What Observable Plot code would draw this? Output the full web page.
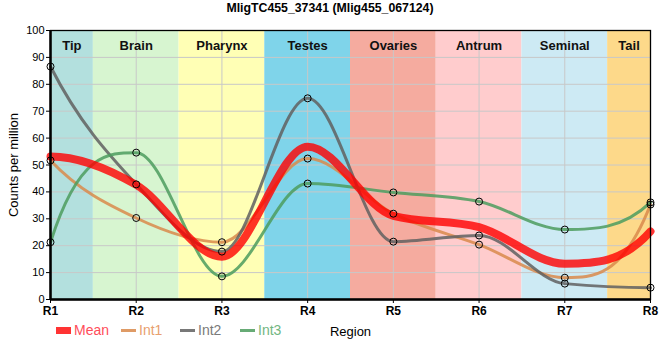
<!DOCTYPE html>
<html>
<head>
<meta charset="utf-8">
<script src="https://cdn.jsdelivr.net/npm/d3@7"></script>
<script src="https://cdn.jsdelivr.net/npm/@observablehq/plot@0.6"></script>
<style>
  body { margin: 0; background: #fff; font-family: "Liberation Sans", Arial, sans-serif; }
  #wrap { position: relative; width: 660px; height: 360px; overflow: hidden; }
  #title { height: 20px; line-height: 17px; text-align: center; font-weight: bold; font-size: 12.3px; color: #000; }
  #legend { position: absolute; left: 0; top: 321px; width: 660px; height: 20px; font-size: 14px; }
  #legend .item { position: absolute; top: 0; display: flex; align-items: center; height: 18px; }
  #legend .sw { display: inline-block; margin-right: 3px; }
</style>
</head>
<body>
<div id="wrap">
  <div id="title"></div>
  <div id="chart"></div>
  <div id="legend"></div>
</div>
<script>
// ---- data ----
const chartTitle = "MligTC455_37341 (Mlig455_067124)";
const regions = ["R1", "R2", "R3", "R4", "R5", "R6", "R7", "R8"];
const int1 = [51.7, 30.3, 21.3, 52.4, 31.9, 20.4, 8.1, 35.3];
const int2 = [86.6, 42.8, 17.8, 74.8, 21.5, 23.8, 5.9, 4.4];
const int3 = [21.3, 54.6, 8.6, 43.1, 39.8, 36.4, 26.0, 36.1];
const meanValues = [53.2, 42.6, 15.9, 56.8, 31.1, 26.9, 13.3, 25.3];
const seriesNames = ["Int1", "Int2", "Int3"];
const seriesColors = ["#d98a4b", "#606060", "#4c9c5e"];
const legendTextColors = ["#ff4d5a", "#e8a06f", "#7a7a7a", "#72b682"];
const bandNames = ["Tip", "Brain", "Pharynx", "Testes", "Ovaries", "Antrum", "Seminal", "Tail"];
const bandStart = [1, 1.5, 2.5, 3.5, 4.5, 5.5, 6.5, 7.5];
const bandEnd = [1.5, 2.5, 3.5, 4.5, 5.5, 6.5, 7.5, 8];
const bandColors = ["#b3e0de", "#d7f5d0", "#ffffb5", "#7fd4ea", "#f5ab9f", "#ffcccd", "#cdeaf4", "#fdd98a"];
const yTicks = [0, 10, 20, 30, 40, 50, 60, 70, 80, 90, 100];

// ---- build tables ----
const xPos = regions.map((_, i) => i + 1);
const seriesValues = [int1, int2, int3];
const tidy = seriesNames.flatMap((name, s) => seriesValues[s].map((v, i) => ({x: xPos[i], y: v, name})));
const meanData = meanValues.map((v, i) => ({x: xPos[i], y: v}));
const bands = bandNames.map((name, i) => ({name, x1: bandStart[i], x2: bandEnd[i]}));

// monotone cubic curve with steeper end tangents
function curveMono(context) {
  let xs, ys;
  return {
    areaStart() {}, areaEnd() {},
    lineStart() { xs = []; ys = []; },
    point(x, y) { xs.push(+x); ys.push(+y); },
    lineEnd() {
      const n = xs.length;
      if (!n) return;
      context.moveTo(xs[0], ys[0]);
      if (n === 1) return;
      if (n === 2) { context.lineTo(xs[1], ys[1]); return; }
      const h = [], s = [];
      for (let i = 0; i < n - 1; i++) { h[i] = xs[i + 1] - xs[i]; s[i] = (ys[i + 1] - ys[i]) / h[i]; }
      const m = new Array(n);
      for (let i = 1; i < n - 1; i++) {
        const p = (s[i - 1] * h[i] + s[i] * h[i - 1]) / (h[i - 1] + h[i]);
        m[i] = (Math.sign(s[i - 1]) + Math.sign(s[i])) * Math.min(Math.abs(s[i - 1]), Math.abs(s[i]), 0.5 * Math.abs(p)) || 0;
      }
      const endT = (sec, adj) => {
        let t = 3 * sec - 2 * adj;
        if (Math.sign(t) !== Math.sign(sec)) t = 0;
        else if (Math.abs(t) > 3 * Math.abs(sec)) t = 3 * sec;
        return t;
      };
      m[0] = endT(s[0], m[1]);
      m[n - 1] = endT(s[n - 2], m[n - 2]);
      for (let i = 0; i < n - 1; i++) {
        const dx = h[i] / 3;
        context.bezierCurveTo(xs[i] + dx, ys[i] + dx * m[i], xs[i + 1] - dx, ys[i + 1] - dx * m[i + 1], xs[i + 1], ys[i + 1]);
      }
    }
  };
}

document.getElementById("title").textContent = chartTitle;

const plot = Plot.plot({
  width: 660,
  height: 320,
  marginTop: 10,
  marginBottom: 41,
  marginLeft: 50,
  marginRight: 10,
  style: {fontFamily: '"Liberation Sans", Arial, sans-serif', background: "transparent", color: "#000", overflow: "visible"},
  x: {domain: [1, 8]},
  y: {domain: [0, 100]},
  color: {domain: [...bandNames, ...seriesNames], range: [...bandColors, ...seriesColors]},
  marks: [
    Plot.rect(bands, {x1: "x1", x2: "x2", fill: "name"}),
    Plot.gridX(xPos, {stroke: "#c8c8c8", strokeOpacity: 1, strokeWidth: 1}),
    Plot.gridY(yTicks, {stroke: "#c8c8c8", strokeOpacity: 1, strokeWidth: 1}),
    Plot.text(bands, {x: d => (d.x1 + d.x2) / 2, text: "name", frameAnchor: "top", dy: 10, fontWeight: "bold", fontSize: 13, fill: "#111"}),
    Plot.line(tidy, {x: "x", y: "y", z: "name", stroke: "name", curve: curveMono, strokeWidth: 3, strokeOpacity: 0.85}),
    Plot.line(meanData, {x: "x", y: "y", curve: curveMono, stroke: "#ff0000", strokeWidth: 8, strokeOpacity: 0.8}),
    Plot.dot(tidy, {x: "x", y: "y", r: 3.5, stroke: "#000", strokeWidth: 1, fill: "none"}),
    Plot.frame({stroke: "#000", strokeWidth: 1.3}),
    Plot.ruleX([1], {stroke: "#000", strokeWidth: 2.5}),
    Plot.ruleY([0], {stroke: "#000", strokeWidth: 2.5}),
    Plot.axisY(yTicks, {tickSize: 4, tickPadding: 2, fontSize: 11, label: "Counts per million", labelAnchor: "center", labelOffset: 42, labelArrow: "none"}),
    Plot.axisX(xPos, {tickSize: 4, tickPadding: 3, fontSize: 12, fontWeight: "bold", tickFormat: d => regions[d - 1], label: "Region", labelAnchor: "center", labelOffset: 36, labelArrow: "none"})
  ]
});
// axis label typography
d3.select(plot).selectAll('g[aria-label="y-axis label"]').attr("font-size", 13).attr("font-weight", "normal")
  .selectAll("text").attr("font-size", 13).attr("font-weight", "normal");
d3.select(plot).selectAll('g[aria-label="x-axis label"]').attr("font-size", 13).attr("font-weight", "normal")
  .selectAll("text").attr("font-size", 13).attr("font-weight", "normal");
document.getElementById("chart").appendChild(plot);

// ---- legend ----
const legend = document.getElementById("legend");
const legendItems = [
  {name: "Mean", color: "#ff3333", kind: "rect", left: 56},
  {name: "Int1", color: seriesColors[0], kind: "line", left: 121},
  {name: "Int2", color: seriesColors[1], kind: "line", left: 180},
  {name: "Int3", color: seriesColors[2], kind: "line", left: 240}
];
legendItems.forEach((it, i) => {
  const el = document.createElement("div");
  el.className = "item";
  el.style.left = it.left + "px";
  const sw = document.createElement("span");
  sw.className = "sw";
  sw.style.width = "15px";
  sw.style.height = it.kind === "rect" ? "7px" : "3px";
  sw.style.background = it.color;
  if (it.kind === "line") sw.style.opacity = 0.85;
  const tx = document.createElement("span");
  tx.textContent = it.name;
  tx.style.color = legendTextColors[i];
  el.appendChild(sw);
  el.appendChild(tx);
  legend.appendChild(el);
});
</script>
</body>
</html>
